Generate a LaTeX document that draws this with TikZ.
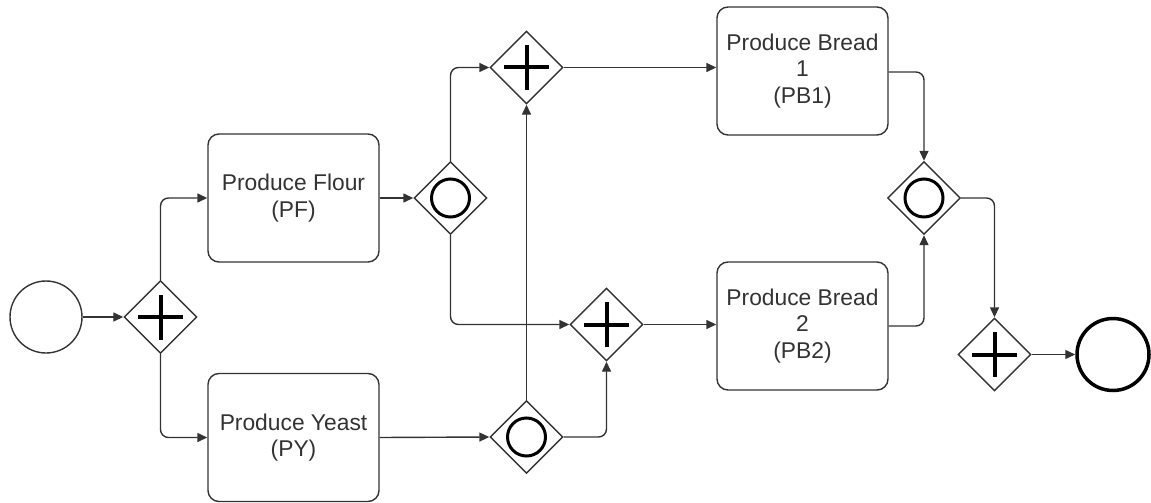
\documentclass[tikz,border=0pt]{standalone}
\usepackage{fontspec}
\setmainfont{Liberation Sans}
\usetikzlibrary{shapes.geometric,arrows.meta}
\definecolor{ink}{HTML}{333333}
\begin{document}
\begin{tikzpicture}[x=1pt,y=-1pt,>={Triangle[length=10pt,width=9pt]},
  color=ink,line width=1.4pt,
  task/.style={draw,rectangle,rounded corners=11pt,minimum width=171pt,minimum height=128pt,
    align=center,font=\fontsize{22.8}{26.5}\selectfont},
  event/.style={draw,circle,minimum size=72pt,inner sep=0pt},
  gate/.style={draw,diamond,aspect=1,minimum size=73pt,inner sep=0pt},
  andgate/.style={gate,path picture={\draw[line width=4pt,black]
    ([xshift=-22.5pt]path picture bounding box.center) -- ++(45pt,0pt)
    ([yshift=-22.5pt]path picture bounding box.center) -- ++(0pt,45pt);}},
  orgate/.style={gate,path picture={\draw[line width=3pt,black]
    (path picture bounding box.center) circle[radius=19pt];}},
  flow/.style={->,rounded corners=8pt}]
  \useasboundingbox (0,0) rectangle (1151,503);
  % events
  \node[event] (start) at (46,317) {};
  \node[event,line width=3.5pt,draw=black] (stop) at (1113,354.5) {};
  % tasks
  \node[task] (pf) at (293.5,198) {Produce Flour\\(PF)};
  \node[task] (py) at (293.5,437.5) {Produce Yeast\\(PY)};
  \node[task] (pb1) at (802.5,71) {Produce Bread\\1\\(PB1)};
  \node[task] (pb2) at (802.5,326) {Produce Bread\\2\\(PB2)};
  % gateways
  \node[andgate] (split) at (160.5,317) {};
  \node[orgate] (orf) at (450.5,198) {};
  \node[orgate] (ory) at (526.5,437) {};
  \node[andgate] (and1) at (526.5,67.5) {};
  \node[andgate] (and2) at (606.5,324.5) {};
  \node[orgate] (orb) at (924,198) {};
  \node[andgate] (join) at (994.5,354.5) {};
  % sequence flows
  \draw[flow] (start) -- (split);
  \draw[flow] (split.north) |- (pf.west);
  \draw[flow] (split.south) |- (py.west);
  \draw[flow] (pf.east) -- (orf.west);
  \draw[flow] (py.east) -- (ory.west);
  \draw[flow] (orf.north) |- (and1.west);
  \draw[flow] (orf.south) |- (and2.west);
  \draw[flow] (ory.north) -- (and1.south);
  \draw[flow] (ory.east) -| (and2.south);
  \draw[flow] (and1.east) -- (and1.east -| pb1.west);
  \draw[flow] (and2.east) -- (and2.east -| pb2.west);
  \draw[flow] ([yshift=-1pt]pb1.east) -| (orb.north);
  \draw[flow] (pb2.east) -| (orb.south);
  \draw[flow] (orb.east) -| (join.north);
  \draw[flow] (join) -- (stop);
\end{tikzpicture}
\end{document}
